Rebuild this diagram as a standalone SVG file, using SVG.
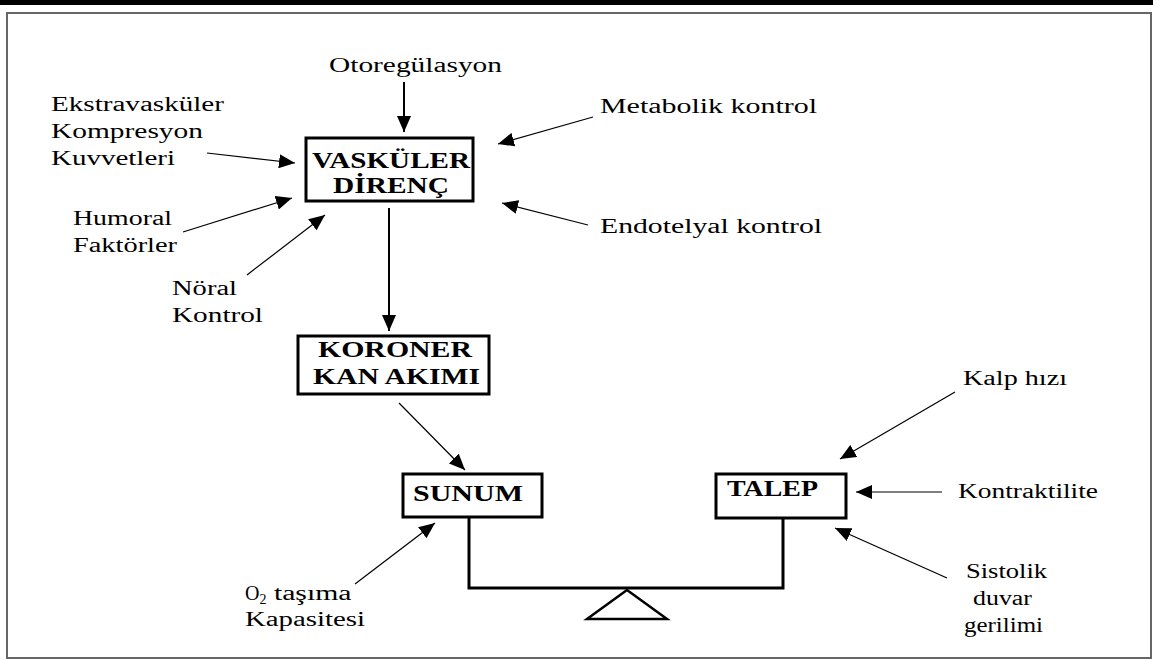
<svg xmlns="http://www.w3.org/2000/svg" width="1153" height="660" viewBox="0 0 1153 660">
<style>
.lbl{font-family:"Liberation Serif","Times New Roman",serif;font-size:20px;fill:#000}
.bx{font-family:"Liberation Serif","Times New Roman",serif;font-size:24px;font-weight:bold;fill:#000}
.box{fill:#fff;stroke:#000;stroke-width:3}
.arr{stroke:#000;stroke-width:1.2;fill:none;marker-end:url(#ah)}
.arrv{stroke:#000;stroke-width:2;fill:none;marker-end:url(#ah)}
</style>
<defs>
<marker id="ah" markerUnits="userSpaceOnUse" markerWidth="16" markerHeight="14" refX="16" refY="7" orient="auto">
<path d="M0,0 L16,7 L0,14 z" fill="#000"/>
</marker>
</defs>
<rect x="0" y="0" width="1153" height="660" fill="#fff"/>
<rect x="0" y="0" width="1153" height="5" fill="#000"/>
<rect x="7" y="13" width="1144" height="645" fill="none" stroke="#666" stroke-width="2"/>

<g id="connectors">
<line class="arrv" x1="404" y1="82" x2="404" y2="132"/>
<line class="arr" x1="207" y1="153" x2="295" y2="163"/>
<line class="arr" x1="183" y1="232" x2="292" y2="198"/>
<line class="arr" x1="247" y1="275" x2="325" y2="215"/>
<line class="arr" x1="593" y1="117" x2="498" y2="144"/>
<line class="arr" x1="588" y1="225" x2="502" y2="203"/>
<line class="arrv" x1="389" y1="208" x2="389" y2="331"/>
<line class="arr" x1="399" y1="403" x2="465" y2="470"/>
<line class="arr" x1="355" y1="584" x2="435" y2="523"/>
<line class="arr" x1="955" y1="392" x2="840" y2="459"/>
<line class="arr" x1="942" y1="492" x2="856" y2="492"/>
<line class="arr" x1="947" y1="578" x2="835" y2="528"/>
</g>

<g id="balance">
<polyline points="469,517 469,588 783,588 783,518" fill="none" stroke="#000" stroke-width="3"/>
<polygon points="627,590 587,619 667,619" fill="#fff" stroke="#000" stroke-width="2.5"/>
</g>

<g id="vaskuler">
<rect class="box" x="306" y="138" width="167" height="63"/>
<text class="bx" x="312" y="168" textLength="158" lengthAdjust="spacingAndGlyphs">VASKÜLER</text>
<text class="bx" x="333" y="193" textLength="116" lengthAdjust="spacingAndGlyphs">DİRENÇ</text>
</g>
<g id="koroner">
<rect class="box" x="298" y="336" width="191" height="58"/>
<text class="bx" x="318" y="357" textLength="154" lengthAdjust="spacingAndGlyphs">KORONER</text>
<text class="bx" x="313" y="384" textLength="167" lengthAdjust="spacingAndGlyphs">KAN AKIMI</text>
</g>
<g id="sunum">
<rect class="box" x="403" y="474" width="139" height="43"/>
<text class="bx" x="413" y="501" textLength="110" lengthAdjust="spacingAndGlyphs">SUNUM</text>
</g>
<g id="talep">
<rect class="box" x="716" y="474" width="130" height="44"/>
<text class="bx" x="727" y="496" textLength="91" lengthAdjust="spacingAndGlyphs">TALEP</text>
</g>

<g id="otoregulasyon"><text class="lbl" x="329" y="72" textLength="173" lengthAdjust="spacingAndGlyphs">Otoregülasyon</text></g>
<g id="ekstravaskuler">
<text class="lbl" x="51" y="111" textLength="173" lengthAdjust="spacingAndGlyphs">Ekstravasküler</text>
<text class="lbl" x="51" y="138" textLength="152" lengthAdjust="spacingAndGlyphs">Kompresyon</text>
<text class="lbl" x="51" y="165" textLength="124" lengthAdjust="spacingAndGlyphs">Kuvvetleri</text>
</g>
<g id="humoral">
<text class="lbl" x="73" y="225" textLength="99" lengthAdjust="spacingAndGlyphs">Humoral</text>
<text class="lbl" x="73" y="252" textLength="104" lengthAdjust="spacingAndGlyphs">Faktörler</text>
</g>
<g id="noral">
<text class="lbl" x="172" y="295" textLength="65" lengthAdjust="spacingAndGlyphs">Nöral</text>
<text class="lbl" x="172" y="322" textLength="91" lengthAdjust="spacingAndGlyphs">Kontrol</text>
</g>
<g id="metabolik"><text class="lbl" x="600" y="113" textLength="217" lengthAdjust="spacingAndGlyphs">Metabolik kontrol</text></g>
<g id="endotelyal"><text class="lbl" x="600" y="233" textLength="222" lengthAdjust="spacingAndGlyphs">Endotelyal kontrol</text></g>
<g id="o2">
<text class="lbl" x="245" y="600">O<tspan font-size="14" dy="4">2</tspan><tspan dy="-4" textLength="85" lengthAdjust="spacingAndGlyphs"> taşıma</tspan></text>
<text class="lbl" x="245" y="626" textLength="120" lengthAdjust="spacingAndGlyphs">Kapasitesi</text>
</g>
<g id="kalp"><text class="lbl" x="963" y="385" textLength="104" lengthAdjust="spacingAndGlyphs">Kalp hızı</text></g>
<g id="kontraktilite"><text class="lbl" x="958" y="498" textLength="140" lengthAdjust="spacingAndGlyphs">Kontraktilite</text></g>
<g id="sistolik">
<text class="lbl" x="966" y="578" textLength="81" lengthAdjust="spacingAndGlyphs">Sistolik</text>
<text class="lbl" x="973" y="605" textLength="59" lengthAdjust="spacingAndGlyphs">duvar</text>
<text class="lbl" x="964" y="632" textLength="79" lengthAdjust="spacingAndGlyphs">gerilimi</text>
</g>
</svg>
